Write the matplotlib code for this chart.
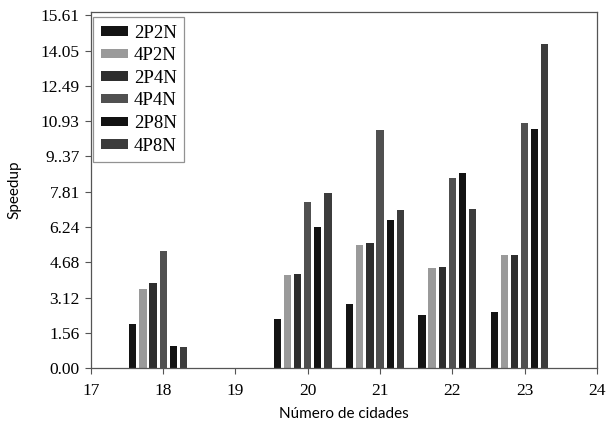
import numpy as np
import matplotlib
matplotlib.use("Agg")
import matplotlib.pyplot as plt

# Dados (speedup por número de cidades)
cidades = [18, 20, 21, 22, 23]
series = ['2P2N', '4P2N', '2P4N', '4P4N', '2P8N', '4P8N']
sp_2P2N = [1.96, 2.18, 2.84, 2.36, 2.47]
sp_4P2N = [3.50, 4.13, 5.45, 4.44, 5.02]
sp_2P4N = [3.75, 4.18, 5.55, 4.47, 5.01]
sp_4P4N = [5.19, 7.33, 10.52, 8.43, 10.86]
sp_2P8N = [0.98, 6.23, 6.54, 8.62, 10.58]
sp_4P8N = [0.91, 7.75, 6.98, 7.02, 14.33]
valores = [sp_2P2N, sp_4P2N, sp_2P4N, sp_4P4N, sp_2P8N, sp_4P8N]

yticks = [0.00, 1.56, 3.12, 4.68, 6.24, 7.81, 9.37, 10.93, 12.49, 14.05, 15.61]
ytick_labels = ['0.00', '1.56', '3.12', '4.68', '6.24', '7.81', '9..37',
                '10.93', '12.49', '14.05', '15.61']

cores = ['#141414', '#9a9a9a', '#2e2e2e', '#505050', '#121212', '#3c3c3c']

fig = plt.figure(figsize=(6.06, 4.32), dpi=100)
ax = fig.add_axes([0.150, 0.148, 0.835, 0.824])

x = np.array(cidades, dtype=float)
width = 0.10
pitch = 0.14
for i, (nome, vals) in enumerate(zip(series, valores)):
    ax.bar(x + (i - 3) * pitch, vals, width, color=cores[i], label=nome,
           edgecolor='none')

ax.set_xlim(17, 24)
ax.set_ylim(0, 15.75)
ax.set_xticks(range(17, 25))
ax.set_yticks(yticks)
ax.set_yticklabels(ytick_labels)

serif = 'Liberation Serif'
for lab in ax.get_xticklabels() + ax.get_yticklabels():
    lab.set_fontfamily(serif)
    lab.set_fontsize(12.5)

ax.tick_params(direction='out', length=4, width=0.8, color='#555555')
ax.tick_params(axis='x', pad=7)
ax.tick_params(axis='y', pad=4)
for s in ax.spines.values():
    s.set_color('#555555')
    s.set_linewidth(0.9)

ax.set_xlabel('Número de cidades', fontfamily='Lato', fontsize=11)
ax.set_ylabel('Speedup', fontfamily='Lato', fontsize=11)
ax.xaxis.set_label_coords(0.5, -0.11)
ax.yaxis.set_label_coords(-0.137, 0.5)

leg = ax.legend(loc='upper left', bbox_to_anchor=(0.005, 0.986),
                prop={'family': serif, 'size': 13.5}, frameon=True,
                fancybox=False, handlelength=1.45, handleheight=0.4,
                handletextpad=0.3, labelspacing=0.3, borderpad=0.4,
                borderaxespad=0.0)
leg.get_frame().set_edgecolor('#777777')
leg.get_frame().set_linewidth(0.9)

plt.savefig('out.png', dpi=100)
